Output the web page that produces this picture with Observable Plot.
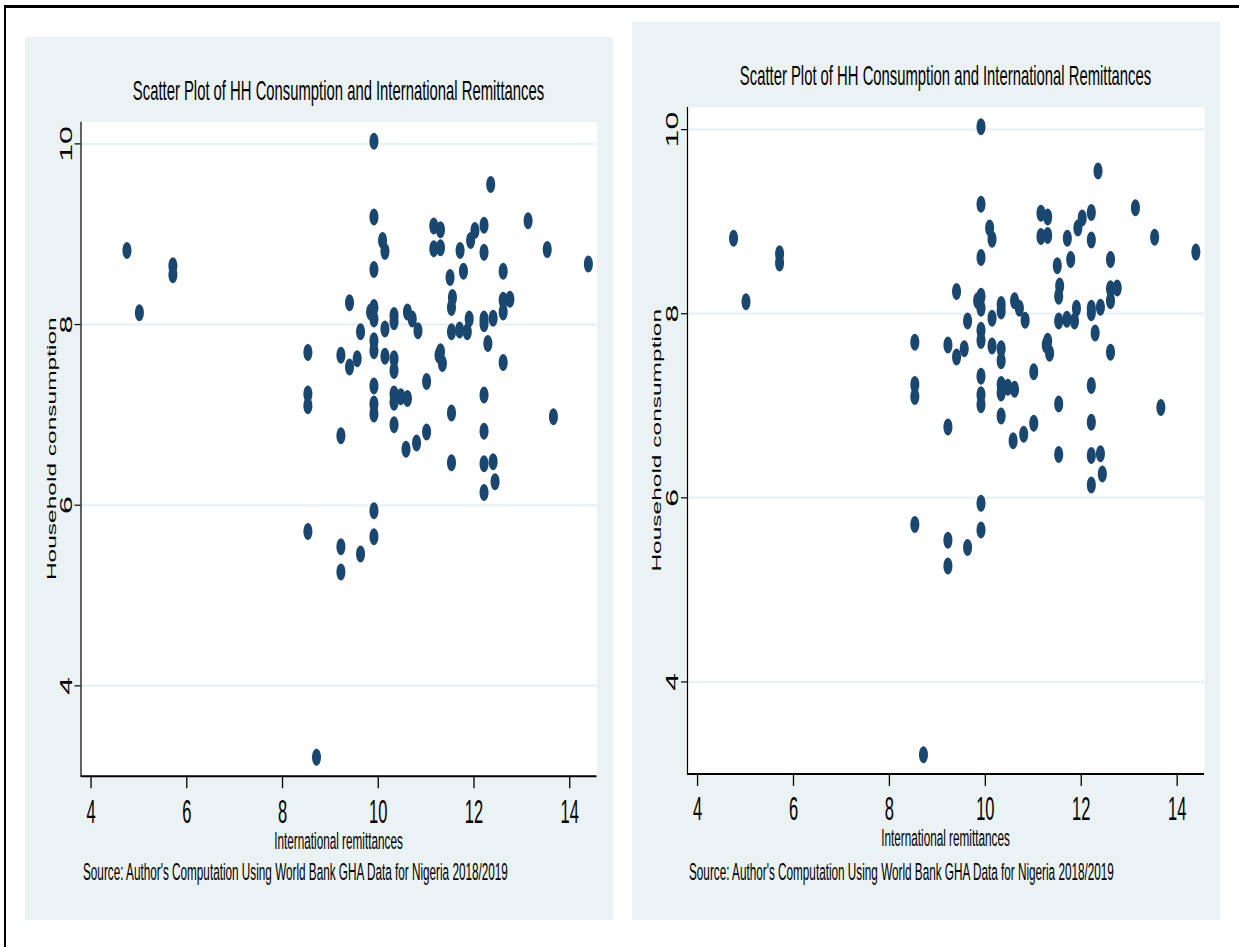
<!DOCTYPE html>
<html><head><meta charset="utf-8">
<script src="https://cdn.jsdelivr.net/npm/d3@7"></script>
<script src="https://cdn.jsdelivr.net/npm/@observablehq/plot@0.6"></script>
<style>
html,body{margin:0;padding:0;background:#fff;width:1239px;height:947px;overflow:hidden;position:relative;}
#frame{position:absolute;left:4px;top:5px;width:1300px;height:1000px;border-top:3px solid #000;border-left:2px solid #000;}
.panel{position:absolute;background:#eaf2f3;}
.panel svg{position:absolute;left:0;top:0;overflow:visible;}
</style></head><body>
<div id="frame"></div>
<div id="p1" class="panel"></div>
<div id="p2" class="panel"></div>
<script>
// ---- data ----
const xRemit = [4.75,5.01,5.71,5.71,8.53,8.53,8.53,8.53,8.71,9.22,9.22,9.22,9.22,9.40,9.40,9.56,9.63,9.63,9.84,
  9.91,9.91,9.91,9.91,9.91,9.91,9.91,9.91,9.91,9.91,9.91,9.91,
  10.09,10.14,10.14,10.14,10.33,10.33,10.33,10.33,10.33,10.33,10.33,10.47,10.61,10.61,10.71,10.83,10.58,10.80,11.01,11.01,
  11.16,11.30,11.16,11.30,11.27,11.34,11.30,11.50,11.55,11.53,11.53,11.53,11.53,11.71,11.78,11.70,11.86,11.90,11.93,12.02,
  12.21,12.21,12.21,12.21,12.40,12.29,12.21,12.21,12.21,12.40,12.44,12.21,12.35,12.61,12.61,12.75,12.61,12.61,13.13,13.53,13.66,14.39];
const yCons = [8.82,8.13,8.65,8.55,7.69,7.23,7.10,5.71,3.21,7.66,6.77,5.54,5.26,8.24,7.53,7.62,7.92,5.46,8.14,
  10.03,9.19,8.61,8.19,8.06,7.82,7.71,7.32,7.12,7.01,5.94,5.65,
  8.93,8.81,7.95,7.65,8.10,8.03,7.62,7.49,7.23,7.14,6.89,7.20,7.18,8.14,8.06,7.93,6.62,6.69,6.81,7.37,
  9.09,9.05,8.84,8.85,7.66,7.57,7.70,8.52,8.30,8.19,7.92,7.02,6.47,8.82,8.59,7.94,7.92,8.06,8.93,9.04,
  9.10,8.80,8.06,8.01,8.07,7.79,7.22,6.82,6.46,6.48,6.26,6.14,9.55,8.59,8.27,8.28,8.14,7.58,9.15,8.83,6.98,8.67];
const xTicks = [4, 6, 8, 10, 12, 14];
const yTicks = [4, 6, 8, 10];
const xDomain = [3.79, 14.57];
const yDomain = [3.0, 10.24];
const titleText = "Scatter Plot of HH Consumption and International Remittances";
const xTitle = "International remittances";
const yTitle = "Household consumption";
const captionText = "Source: Author's Computation Using World Bank GHA Data for Nigeria 2018/2019";

const points = xRemit.map((x, i) => ({x, y: yCons[i]}));
const FONT = "'Liberation Sans', Arial, Helvetica, sans-serif";
const NAVY = "#1a476f";
const GRID = "#eaf2f3";
const SX = 0.5;

const ellipseSymbol = {
  draw(ctx) {
    const rx = 4.5, ry = 8.5, k = 0.5523;
    ctx.moveTo(rx, 0);
    ctx.bezierCurveTo(rx, k * ry, k * rx, ry, 0, ry);
    ctx.bezierCurveTo(-k * rx, ry, -rx, k * ry, -rx, 0);
    ctx.bezierCurveTo(-rx, -k * ry, -k * rx, -ry, 0, -ry);
    ctx.bezierCurveTo(k * rx, -ry, rx, -k * ry, rx, 0);
    ctx.closePath();
  }
};

function condense(svg, sx) {
  d3.select(svg).selectAll("text").each(function () {
    const t = this.getAttribute("transform");
    this.style.fontSize = (t && t.includes("rotate")) ? "32px" : "33px";
    if (t && /^\s*translate\(/.test(t)) {
      this.setAttribute("transform", t.replace(/^\s*(translate\([^)]*\))/, `$1 scale(${sx},1)`));
    } else {
      const x = +(this.getAttribute("x") || 0), y = +(this.getAttribute("y") || 0);
      this.removeAttribute("x"); this.removeAttribute("y");
      this.setAttribute("transform", `translate(${x},${y}) scale(${sx},1)` + (t ? " " + t : ""));
    }
  });
}

function drawPanel(el, g) {
  el.style.left = g.left + "px"; el.style.top = g.top + "px";
  el.style.width = g.width + "px"; el.style.height = g.height + "px";
  const chart = Plot.plot({
    width: g.width, height: g.height,
    marginLeft: g.plotLeft - g.left, marginRight: g.left + g.width - g.plotRight,
    marginTop: g.plotTop - g.top, marginBottom: g.top + g.height - g.plotBottom,
    style: {background: "transparent", fontFamily: FONT, overflow: "visible", color: "black"},
    x: {domain: xDomain, label: null},
    y: {domain: yDomain, label: null},
    marks: [
      Plot.frame({fill: "white", stroke: "none"}),
      Plot.ruleY(yTicks, {stroke: GRID, strokeWidth: 2.5}),
      Plot.ruleX([xDomain[0]], {stroke: "black", strokeWidth: 1.2}),
      Plot.ruleY([yDomain[0]], {stroke: "black", strokeWidth: 2}),
      Plot.axisX({ticks: xTicks, tickSize: 12.5, tickPadding: g.xPad, fontSize: 33, color: "black", strokeWidth: 1.3, tickFormat: d => String(d), label: null}),
      Plot.axisY({ticks: yTicks, tickSize: 6, tickPadding: 3.5, tickRotate: -90, fontSize: 32, color: "black", strokeWidth: 1.2, tickFormat: d => String(d), label: null}),
      Plot.dot(points, {x: "x", y: "y", symbol: ellipseSymbol, fill: NAVY, stroke: "none", r: 5})
    ]
  });
  condense(chart, SX);
  const svg = d3.select(chart);
  const addText = (txt, x, y, size, sx, rotate, anchor) => {
    svg.append("text")
      .attr("transform", `translate(${x - g.left},${y - g.top}) scale(${sx},1)` + (rotate ? ` rotate(${rotate})` : ""))
      .attr("text-anchor", anchor).attr("font-family", FONT)
      .style("font-size", size + "px")
      .attr("fill", "black").text(txt);
  };
  const cx = (g.plotLeft + g.plotRight) / 2;
  const cy = (g.plotTop + g.plotBottom) / 2;
  addText(titleText, cx, g.titleY, 28, 0.53, 0, "middle");
  addText(xTitle, cx, g.xTitleY, 23.5, SX, 0, "middle");
  addText(captionText, g.captionX, g.captionY, 23.5, SX, 0, "start");
  addText(yTitle, g.yTitleX, cy, 24.5, SX, -90, "middle");
  el.appendChild(chart);
}

drawPanel(document.getElementById("p1"), {
  left: 25, top: 37, width: 588, height: 883,
  plotLeft: 80.5, plotRight: 596.5, plotTop: 121.7, plotBottom: 775.7,
  xPad: 10.5, titleY: 100, xTitleY: 849, captionX: 83, captionY: 880, yTitleX: 56
});
drawPanel(document.getElementById("p2"), {
  left: 632, top: 22, width: 588, height: 898,
  plotLeft: 687, plotRight: 1204, plotTop: 107, plotBottom: 773.5,
  xPad: 10.5, titleY: 85, xTitleY: 846, captionX: 689, captionY: 880, yTitleX: 661
});
</script></body></html>
